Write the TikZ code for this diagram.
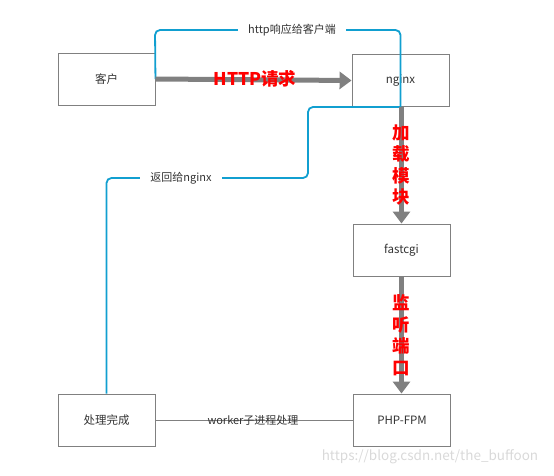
\documentclass[tikz,border=0pt]{standalone}
\usepackage{fontspec}
\setmainfont{Noto Sans CJK SC}
\usepackage{xcolor}
\usetikzlibrary{arrows.meta}

\definecolor{boxgray}{HTML}{808080}
\definecolor{txtgray}{HTML}{333333}
\definecolor{lineblue}{HTML}{119FD0}

\begin{document}
\begin{tikzpicture}[x=1pt, y=-1pt,
    box/.style={draw=boxgray, line width=0.9pt, fill=white, text=txtgray,
                minimum width=97pt, minimum height=52pt, font=\fontsize{11.5}{13}\selectfont},
    bigarrow/.style={draw=boxgray, line width=5pt, -{Triangle[length=12pt, width=17pt]}},
    backline/.style={draw=lineblue, line width=1.8pt, rounded corners=5pt},
    redtext/.style={text=red, font=\fontsize{17.5}{21.5}\selectfont\bfseries, align=center},
    linelabel/.style={fill=white, text=txtgray, font=\fontsize{11}{13}\selectfont}]

    \useasboundingbox (0,0) rectangle (554,476);

    % Boxes
    \node[box] (client) at (106.5, 79) {客户};
    \node[box] (nginx) at (400.5, 80.5) {nginx};
    \node[box] (fastcgi) at (401.5, 250) {fastcgi};
    \node[box] (fpm) at (402, 420) {PHP-FPM};
    \node[box] (done) at (106.5, 420) {处理完成};

    % --------------------
    % Blue return lines
    % --------------------

    \draw[backline] (done.north) -- (106.5, 178) -- (308, 178) -- (308, 107) -- (nginx.south);
    \draw[backline] (nginx.south) -- (400.5, 30) -- (155, 30) -- (client.east);

    \node[linelabel, inner xsep=10pt] at (181, 178) {返回给nginx};
    \node[linelabel, inner xsep=10pt] at (292, 30) {http响应给客户端};

    % --------------------
    % Gray arrows
    % --------------------

    \draw[bigarrow] (client.east) -- (nginx.west);
    \draw[bigarrow] (nginx.south -| fastcgi.north) -- (fastcgi.north);
    \draw[bigarrow] (fastcgi.south) -- (fastcgi.south |- fpm.north);

    \draw[boxgray, line width=0.8pt] (done.east) -- (fpm.west);

    \node[redtext] at (255, 79) {HTTP请求};
    \node[redtext] at (401.5, 165) {加\\载\\模\\块};
    \node[redtext] at (401.5, 335) {监\\听\\端\\口};

    \node[text=txtgray, font=\fontsize{11}{13}\selectfont] at (253, 420) {worker子进程处理};

    \node[text=gray!30, font=\fontsize{13.5}{15}\selectfont] at (430, 457) {https://blog.csdn.net/the\_buffoon};

\end{tikzpicture}
\end{document}
